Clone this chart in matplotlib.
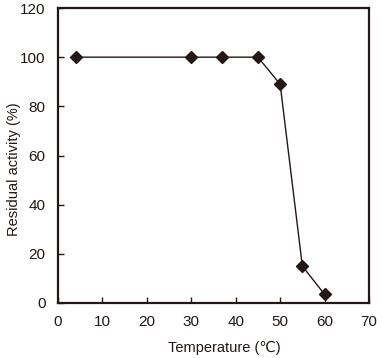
import matplotlib
matplotlib.use("Agg")
import matplotlib.pyplot as plt

plt.rcParams['font.family'] = ['Liberation Sans', 'DejaVu Sans']

temperature = [4, 30, 37, 45, 50, 55, 60]
activity = [100, 100, 100, 100, 89, 15, 3.5]
x_ticks = [0, 10, 20, 30, 40, 50, 60, 70]
y_ticks = [0, 20, 40, 60, 80, 100, 120]

fig = plt.figure(figsize=(3.82, 3.58), dpi=100)
ax = fig.add_axes([58/382, 1-303/358, (369-58)/382, (303-8)/358])
ax.plot(temperature, activity, color='#231815', lw=1.0, marker='D', ms=6.5,
        mfc='#231815', mec='#231815')
ax.set_xlim(0, 70)
ax.set_ylim(0, 120)
ax.set_xticks(x_ticks)
ax.set_yticks(y_ticks)
ax.tick_params(direction='in', length=4, width=1, labelsize=11, colors='#231815', pad=9)
for s in ax.spines.values():
    s.set_linewidth(1.6)
    s.set_color('#231815')
ax.set_xlabel('Temperature (℃)', fontsize=10.5, color='#231815')
ax.set_ylabel('Residual activity (%)', fontsize=10.5, color='#231815')
ax.yaxis.set_label_coords(-0.118, 0.454)
ax.xaxis.set_label_coords(0.534, -0.13)
fig.savefig('out.png', dpi=100)
